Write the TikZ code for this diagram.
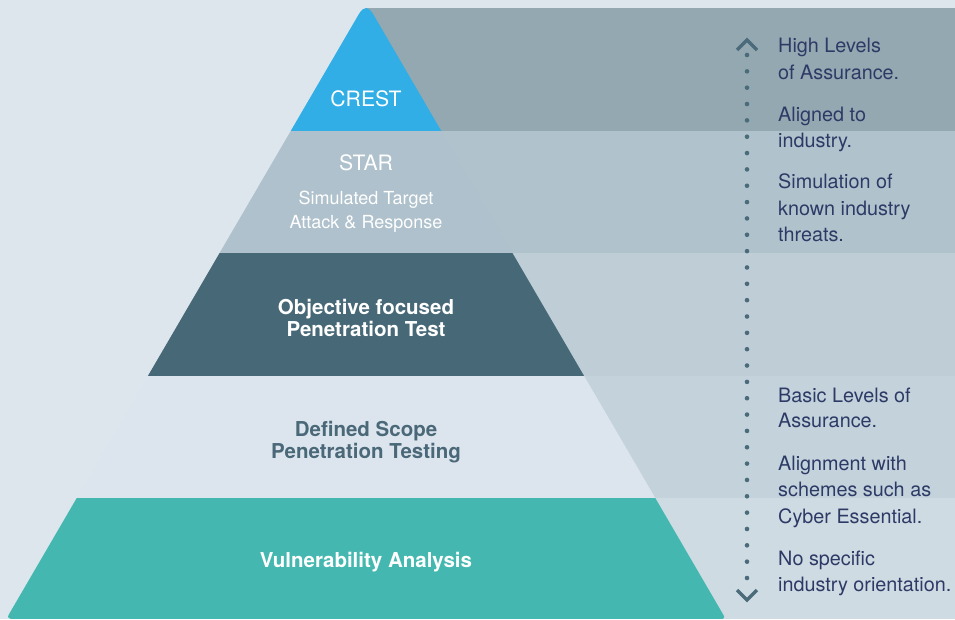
\documentclass[tikz,border=0pt]{standalone}
\usepackage{fontspec}
\setmainfont{TeX Gyre Heros}
\definecolor{bg}{HTML}{DEE6ED}
\definecolor{crest}{HTML}{30AEE5}
\definecolor{star}{HTML}{AEC1CC}
\definecolor{obj}{HTML}{476877}
\definecolor{defl}{HTML}{DCE5ED}
\definecolor{vuln}{HTML}{44B8B0}
\definecolor{crestband}{HTML}{93A8B1}
\definecolor{starband}{HTML}{B0C3CD}
\definecolor{objband}{HTML}{BECDD6}
\definecolor{defband}{HTML}{C4D2DC}
\definecolor{vulnband}{HTML}{CFDBE3}
\definecolor{txt}{HTML}{2E3A66}
\definecolor{dotc}{HTML}{4B6B7A}
\definecolor{deftxt}{HTML}{4A6878}
\tikzset{
  rtext/.style={anchor=base west, inner sep=0pt, text=txt, font=\fontsize{19.8}{24}\selectfont},
  ptitle/.style={anchor=base, inner sep=0pt, text=white, font=\fontsize{21.2}{24}\selectfont},
  pbold/.style={anchor=base, inner sep=0pt, text=white, font=\bfseries\fontsize{20.5}{24}\selectfont},
  psub/.style={anchor=base, inner sep=0pt, text=white, font=\fontsize{18}{20}\selectfont},
  chevron/.style={draw=dotc, line width=3.4pt, line join=miter},
  dotline/.style={draw=dotc, line width=4.6pt, line cap=round, dash pattern=on 0pt off 16.34375pt},
}
\begin{document}
\begin{tikzpicture}[x=1pt,y=-1pt]
\useasboundingbox (0,0) rectangle (955,619);
\fill[bg] (0,0) rectangle (955,619);
% bands on the right
\fill[crestband] (366,8) rectangle (955,131);
\fill[starband] (366,131) rectangle (955,253);
\fill[objband] (366,253) rectangle (955,376);
\fill[defband] (366,376) rectangle (955,498);
\fill[vulnband] (366,498) rectangle (955,619);
% pyramid
\begin{scope}
\clip (366,619) -- (720.8,619) .. controls (724.1,619) and (725.0,617.6) .. (723.3,614.7)
  -- (373.2,14.2) .. controls (368.4,5.93) and (363.6,5.93) .. (358.8,14.2)
  -- (8.7,614.7) .. controls (7.0,617.6) and (9.5,619) .. (11.2,619) -- cycle;
\fill[crest] (0,0) rectangle (955,131);
\fill[star] (0,131) rectangle (955,253);
\fill[obj] (0,253) rectangle (955,376);
\fill[defl] (0,376) rectangle (955,498);
\fill[vuln] (0,498) rectangle (955,619);
\end{scope}
% pyramid labels
\node[ptitle] (crestT) at (366,106.7) {CREST};
\node[ptitle] (starT) at (366,170) {STAR};
\node[psub] (starS1) at (366,204.3) {Simulated Target};
\node[psub] (starS2) at (366,228) {Attack \& Response};
\node[pbold] (objT1) at (366,314) {Objective focused};
\node[pbold] (objT2) at (366,336) {Penetration Test};
\node[pbold, text=deftxt] (defT1) at (366,436) {Defined Scope};
\node[pbold, text=deftxt] (defT2) at (366,458.3) {Penetration Testing};
\node[pbold] (vulnT) at (366,567) {Vulnerability Analysis};
% scale arrow
\coordinate (dtop) at (747,55);
\coordinate (dbot) at (747,578.3);
\draw[dotline] (dtop) -- (dbot);
\coordinate (ct1) at (737,50);
\coordinate (ct2) at (747,40);
\coordinate (ct3) at (757,50);
\draw[chevron] (ct1) -- (ct2) -- (ct3);
\coordinate (cb1) at (737,590);
\coordinate (cb2) at (747,600);
\coordinate (cb3) at (757,590);
\draw[chevron] (cb1) -- (cb2) -- (cb3);
% right texts
\node[rtext] (r1a) at (778,52.3) {High Levels};
\node[rtext] (r1b) at (778,79.3) {of Assurance.};
\node[rtext] (r2a) at (778,121) {Aligned to};
\node[rtext] (r2b) at (778,147) {industry.};
\node[rtext] (r3a) at (778,188.3) {Simulation of};
\node[rtext] (r3b) at (778,215) {known industry};
\node[rtext] (r3c) at (778,241.7) {threats.};
\node[rtext] (r4a) at (778,402.3) {Basic Levels of};
\node[rtext] (r4b) at (778,427.7) {Assurance.};
\node[rtext] (r5a) at (778,470) {Alignment with};
\node[rtext] (r5b) at (778,496.7) {schemes such as};
\node[rtext] (r5c) at (778,523.3) {Cyber Essential.};
\node[rtext] (r6a) at (778,565) {No specific};
\node[rtext] (r6b) at (778,591.7) {industry orientation.};
\end{tikzpicture}
\end{document}
